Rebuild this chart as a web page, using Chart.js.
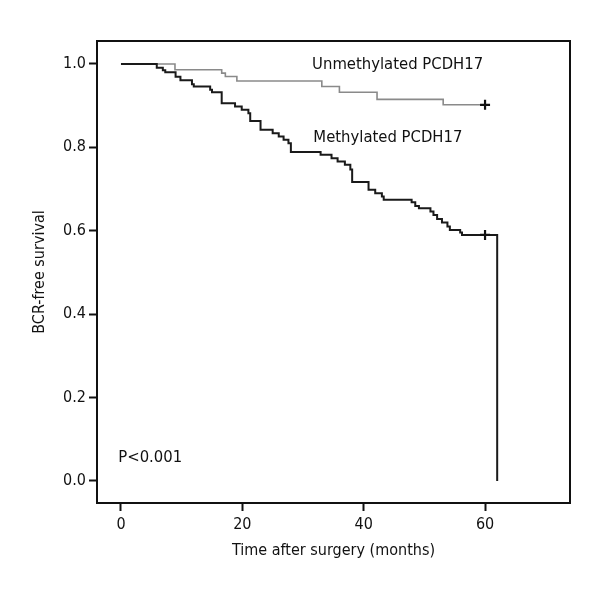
<!DOCTYPE html>
<html>
<head>
<meta charset="utf-8">
<script src="https://cdn.jsdelivr.net/npm/chart.js@4"></script>
<style>
  html, body { margin: 0; padding: 0; background: #fff; }
  #wrap { width: 600px; height: 600px; }
</style>
</head>
<body>
<div id="wrap"><canvas id="c" width="600" height="600"></canvas></div>
<script>
// ---- data ----
const methTimes = [0, 5.9, 6.9, 7.3, 9.0, 9.8, 11.7, 12.0, 14.7, 15.0, 16.6, 18.8, 19.9, 21.0, 21.3, 23.0, 25.0, 26.0, 26.8, 27.6, 28.0, 32.9, 34.7, 35.7, 36.9, 37.8, 38.1, 40.8, 41.9, 43.0, 43.3, 47.9, 48.5, 49.1, 51.0, 51.5, 52.1, 52.9, 53.8, 54.2, 55.9, 56.2, 62.0];
const methSurv  = [1.0, 0.991, 0.985, 0.980, 0.969, 0.961, 0.951, 0.946, 0.938, 0.932, 0.906, 0.898, 0.890, 0.882, 0.863, 0.842, 0.834, 0.826, 0.818, 0.810, 0.789, 0.782, 0.774, 0.766, 0.758, 0.747, 0.717, 0.698, 0.690, 0.682, 0.674, 0.668, 0.659, 0.654, 0.646, 0.638, 0.628, 0.620, 0.610, 0.602, 0.596, 0.590, 0.0];
const unmethTimes = [0, 8.9, 16.6, 17.2, 19.1, 33.1, 36.0, 42.2, 53.1, 60];
const unmethSurv  = [1.0, 0.986, 0.978, 0.970, 0.959, 0.946, 0.932, 0.915, 0.902, 0.902];
const censorTimes = [60, 60];
const censorSurv  = [0.902, 0.590];
const xTickValues = [0, 20, 40, 60];
const yTickValues = [0, 0.2, 0.4, 0.6, 0.8, 1.0];
const annotationTexts = ["Unmethylated PCDH17", "Methylated PCDH17", "P<0.001"];
const annotationX = [31.5, 31.7, -0.45];
const annotationY = [0.998, 0.823, 0.055];
const xTitle = "Time after surgery (months)";
const yTitle = "BCR-free survival";

const FONT = "'Liberation Sans Narrow', 'DejaVu Sans Condensed', 'Arial Narrow', sans-serif";
const toPts = (xs, ys) => xs.map((x, i) => ({ x: x, y: ys[i] }));

const framePlugin = {
  id: 'frameAndNotes',
  afterDraw(chart) {
    const { ctx, chartArea: a, scales } = chart;
    ctx.save();
    ctx.strokeStyle = '#111';
    ctx.lineWidth = 2;
    ctx.strokeRect(a.left, a.top, a.right - a.left, a.bottom - a.top);
    ctx.fillStyle = '#111';
    ctx.font = '16.5px ' + FONT;
    ctx.textAlign = 'left';
    ctx.textBaseline = 'middle';
    annotationTexts.forEach((t, i) => {
      ctx.fillText(t, scales.x.getPixelForValue(annotationX[i]), scales.y.getPixelForValue(annotationY[i]));
    });
    ctx.restore();
  }
};

new Chart(document.getElementById('c'), {
  type: 'scatter',
  data: {
    datasets: [
      {
        label: 'Censored',
        data: toPts(censorTimes, censorSurv),
        showLine: false,
        pointStyle: 'cross',
        pointRadius: 5,
        pointBorderWidth: 2.2,
        borderColor: '#111',
        backgroundColor: '#111'
      },
      {
        label: 'Methylated PCDH17',
        data: toPts(methTimes, methSurv),
        showLine: true,
        stepped: true,
        borderColor: '#1a1a1a',
        borderWidth: 2,
        pointRadius: 0,
        fill: false
      },
      {
        label: 'Unmethylated PCDH17',
        data: toPts(unmethTimes, unmethSurv),
        showLine: true,
        stepped: true,
        borderColor: '#8a8a8a',
        borderWidth: 1.6,
        pointRadius: 0,
        fill: false
      }
    ]
  },
  options: {
    responsive: false,
    animation: false,
    devicePixelRatio: 1,
    layout: { padding: { top: 41, right: 30, left: 0, bottom: 0 } },
    plugins: { legend: { display: false }, tooltip: { enabled: false } },
    scales: {
      x: {
        type: 'linear',
        min: -3.95,
        max: 74,
        afterFit(s) { s.height = 97; },
        afterBuildTicks(s) { s.ticks = xTickValues.map(v => ({ value: v })); },
        border: { display: false },
        grid: { drawOnChartArea: false, drawTicks: true, tickLength: 8, tickColor: '#111', tickWidth: 2 },
        ticks: { color: '#111', padding: 4, font: { family: FONT, size: 16 }, maxRotation: 0 },
        title: { display: true, text: xTitle, color: '#111', font: { family: FONT, size: 16 }, padding: { bottom: 40, top: 0 } }
      },
      y: {
        type: 'linear',
        min: -0.053,
        max: 1.055,
        afterFit(s) { s.width = 97; },
        afterBuildTicks(s) { s.ticks = yTickValues.map(v => ({ value: v })); },
        border: { display: false },
        grid: { drawOnChartArea: false, drawTicks: true, tickLength: 8, tickColor: '#111', tickWidth: 2 },
        ticks: { color: '#111', padding: 3, font: { family: FONT, size: 16 }, callback: v => Number(v).toFixed(1) },
        title: { display: true, text: yTitle, color: '#111', font: { family: FONT, size: 16 }, padding: { top: 30, bottom: 0 } }
      }
    }
  },
  plugins: [framePlugin]
});
</script>
</body>
</html>
